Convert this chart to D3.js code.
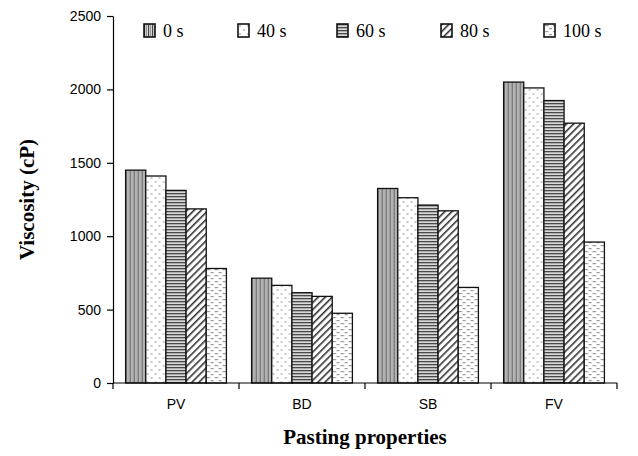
<!DOCTYPE html>
<html>
<head>
<meta charset="utf-8">
<script src="https://cdn.jsdelivr.net/npm/d3@7"></script>
<style>
  body { margin: 0; background: #fff; }
  svg { display: block; }
</style>
</head>
<body>
<div id="chart"></div>
<script>
// categorie e serie
const categorie = ['PV', 'BD', 'SB', 'FV'];
const serie = ['0 s', '40 s', '60 s', '80 s', '100 s'];
const valori0 = [1450, 714, 1325, 2050];
const valori40 = [1410, 665, 1262, 2010];
const valori60 = [1312, 615, 1212, 1924];
const valori80 = [1186, 590, 1173, 1770];
const valori100 = [780, 475, 651, 960];
const yTicks = [0, 500, 1000, 1500, 2000, 2500];

const tabella = [valori0, valori40, valori60, valori80, valori100];

const width = 638, height = 456;
const margin = { top: 16, right: 21, bottom: 73, left: 113 };
const w = width - margin.left - margin.right;
const h = height - margin.top - margin.bottom;

const fontSans = "'Liberation Sans', Arial, sans-serif";
const fontSerif = "'Liberation Serif', 'Times New Roman', serif";

const svg = d3.select('#chart').append('svg')
    .attr('width', width)
    .attr('height', height);

// pattern di riempimento (bianco e nero come l'originale)
const defs = svg.append('defs');

const pVert = defs.append('pattern').attr('id', 'p0')
    .attr('patternUnits', 'userSpaceOnUse').attr('width', 4).attr('height', 4);
pVert.append('rect').attr('width', 4).attr('height', 4).attr('fill', '#d4d4d4');
pVert.append('rect').attr('x', 0).attr('width', 1.1).attr('height', 4).attr('fill', '#4a4a4a');
pVert.append('rect').attr('x', 2).attr('width', 1).attr('height', 4).attr('fill', '#9a9a9a');

const pDot = defs.append('pattern').attr('id', 'p1')
    .attr('patternUnits', 'userSpaceOnUse').attr('width', 8).attr('height', 8);
pDot.append('rect').attr('width', 8).attr('height', 8).attr('fill', '#fff');
pDot.append('circle').attr('cx', 2).attr('cy', 2).attr('r', 0.9).attr('fill', '#b0b0b0');
pDot.append('circle').attr('cx', 6).attr('cy', 6).attr('r', 0.9).attr('fill', '#b0b0b0');

const pHor = defs.append('pattern').attr('id', 'p2')
    .attr('patternUnits', 'userSpaceOnUse').attr('width', 4).attr('height', 3);
pHor.append('rect').attr('width', 4).attr('height', 3).attr('fill', '#d8d8d8');
pHor.append('rect').attr('y', 0).attr('width', 4).attr('height', 1.3).attr('fill', '#4a4a4a');

const pDiag = defs.append('pattern').attr('id', 'p3')
    .attr('patternUnits', 'userSpaceOnUse').attr('width', 5).attr('height', 5)
    .attr('patternTransform', 'rotate(45)');
pDiag.append('rect').attr('width', 5).attr('height', 5).attr('fill', '#fff');
pDiag.append('rect').attr('x', 0).attr('width', 1.6).attr('height', 5).attr('fill', '#333');

const pDash = defs.append('pattern').attr('id', 'p4')
    .attr('patternUnits', 'userSpaceOnUse').attr('width', 8).attr('height', 6);
pDash.append('rect').attr('width', 8).attr('height', 6).attr('fill', '#fff');
pDash.append('rect').attr('x', 1).attr('y', 1).attr('width', 3.5).attr('height', 1.2).attr('fill', '#999');
pDash.append('rect').attr('x', 5).attr('y', 4).attr('width', 3.5).attr('height', 1.2).attr('fill', '#999');

const g = svg.append('g')
    .attr('transform', `translate(${margin.left},${margin.top})`);

const x0 = d3.scaleBand().domain(categorie).range([0, w]).paddingInner(0.2).paddingOuter(0.1);
const x1 = d3.scaleBand().domain(serie).range([0, x0.bandwidth()]);
const xAxisScale = d3.scaleBand().domain(categorie).range([0, w]);
const y = d3.scaleLinear().domain([0, 2500]).range([h, 0]);

// barre
const gruppi = g.selectAll('.gruppo')
    .data(categorie)
    .join('g')
    .attr('class', 'gruppo')
    .attr('transform', d => `translate(${xAxisScale(d) + (xAxisScale.bandwidth() - x0.bandwidth()) / 2},0)`);

gruppi.selectAll('rect')
    .data((c, ci) => serie.map((s, si) => ({ s, si, v: tabella[si][ci] })))
    .join('rect')
    .attr('x', d => x1(d.s))
    .attr('y', d => y(d.v))
    .attr('width', x1.bandwidth())
    .attr('height', d => h - y(d.v))
    .attr('fill', d => `url(#p${d.si})`)
    .attr('stroke', '#111')
    .attr('stroke-width', 1.3);

// asse y
const yAxis = g.append('g')
    .call(d3.axisLeft(y).tickValues(yTicks).tickFormat(d3.format('d'))
        .tickSize(6).tickSizeOuter(0).tickPadding(6));
yAxis.select('.domain').attr('stroke', '#000').attr('stroke-width', 1.2);
yAxis.selectAll('.tick line').attr('stroke', '#000').attr('stroke-width', 1.2);
yAxis.selectAll('text').attr('font-family', fontSans)
    .attr('font-size', 14).attr('fill', '#000');

// asse x: tacche ai bordi delle categorie
const xAxis = g.append('g').attr('transform', `translate(0,${h})`);
xAxis.append('line').attr('x1', 0).attr('x2', w).attr('stroke', '#000').attr('stroke-width', 1.2);
xAxis.selectAll('.tacca')
    .data(categorie.concat(['fine']))
    .join('line')
    .attr('class', 'tacca')
    .attr('x1', (d, i) => i < categorie.length ? xAxisScale(d) : w)
    .attr('x2', (d, i) => i < categorie.length ? xAxisScale(d) : w)
    .attr('y1', 0).attr('y2', 6)
    .attr('stroke', '#000').attr('stroke-width', 1.2);
xAxis.selectAll('.etichetta')
    .data(categorie)
    .join('text')
    .attr('class', 'etichetta')
    .attr('x', d => xAxisScale(d) + xAxisScale.bandwidth() / 2)
    .attr('y', 26)
    .attr('text-anchor', 'middle')
    .attr('font-family', fontSans)
    .attr('font-size', 14)
    .text(d => d);

// titoli assi
svg.append('text')
    .attr('transform', `translate(34,${margin.top + h / 2}) rotate(-90)`)
    .attr('text-anchor', 'middle')
    .attr('font-family', fontSerif)
    .attr('font-weight', 'bold')
    .attr('font-size', 21)
    .text('Viscosity (cP)');

svg.append('text')
    .attr('x', margin.left + w / 2)
    .attr('y', 444)
    .attr('text-anchor', 'middle')
    .attr('font-family', fontSerif)
    .attr('font-weight', 'bold')
    .attr('font-size', 21)
    .text('Pasting properties');

// legenda
const legendaX = [144, 238, 337, 441, 544];
const legenda = svg.append('g');
serie.forEach((s, i) => {
    const riga = legenda.append('g').attr('transform', `translate(${legendaX[i]},24)`);
    riga.append('rect')
        .attr('width', 11).attr('height', 13)
        .attr('fill', `url(#p${i})`)
        .attr('stroke', '#111').attr('stroke-width', 1.6);
    riga.append('text')
        .attr('x', 19).attr('y', 12.5)
        .attr('font-family', fontSerif)
        .attr('font-size', 18)
        .text(s);
});
</script>
</body>
</html>
